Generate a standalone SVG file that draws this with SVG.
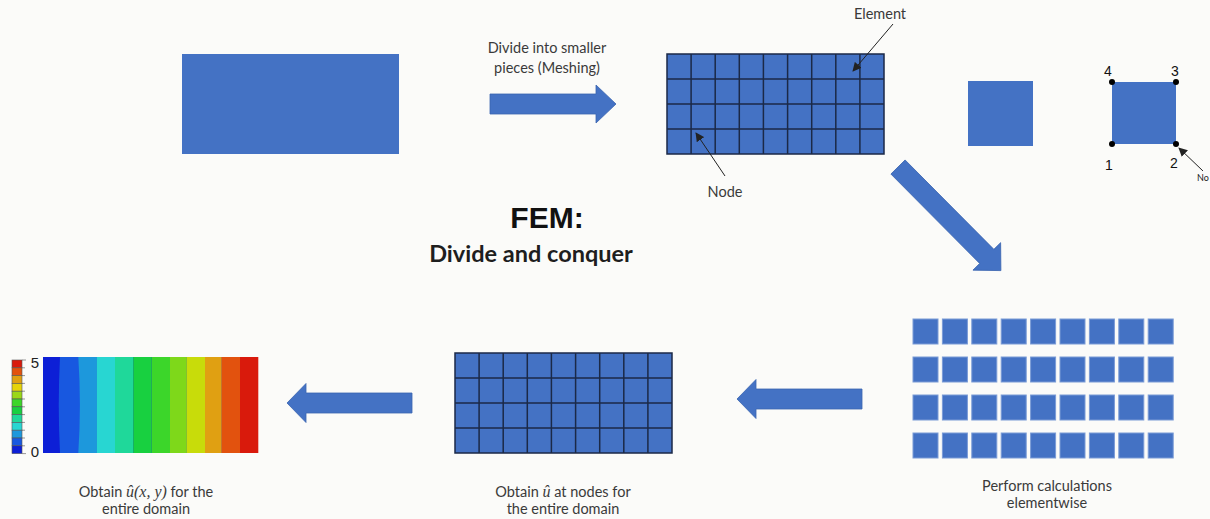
<svg xmlns="http://www.w3.org/2000/svg" width="1210" height="519" viewBox="0 0 1210 519">
  <defs>
    <style>
      .blk { fill: #4472c4; }
      .grid { fill: none; stroke: #1b2947; stroke-width: 1.5; }
      .sq { fill: #4472c4; stroke: #7a9bd6; stroke-width: 1; }
      .arrow { fill: #4472c4; stroke: #3a64b0; stroke-width: 0.8; }
      .lbl { font-family: Lato, "Open Sans", sans-serif; font-size: 14.5px; fill: #3a3a3a; text-anchor: middle; }
      .num { font-family: "Liberation Sans", Arial, sans-serif; font-size: 14px; fill: #111; text-anchor: middle; }
      .math { font-family: "Liberation Serif", serif; font-style: italic; font-size: 16px; }
      .ptr { stroke: #222; stroke-width: 1; fill: none; }
    </style>
    <marker id="ah" viewBox="0 0 10 10" refX="9" refY="5" markerWidth="9" markerHeight="9" markerUnits="userSpaceOnUse" orient="auto">
      <path d="M0,0 L10,5 L0,10 z" fill="#222"/>
    </marker>
  </defs>
  <rect x="0" y="0" width="1210" height="519" fill="#fbfbf9"/>

  <g id="domain">
    <rect class="blk" x="182" y="54" width="217" height="100"/>
  </g>

  <g id="mesh-label">
    <text class="lbl" x="547" y="53">Divide into smaller</text>
    <text class="lbl" x="547" y="73">pieces (Meshing)</text>
  </g>

  <g id="mesh">
    <rect class="blk" x="667" y="54" width="217" height="100"/>
    <path class="grid" d="M667,54 H884 V154 H667 Z M691.1,54 V154 M715.2,54 V154 M739.3,54 V154 M763.4,54 V154 M787.6,54 V154 M811.7,54 V154 M835.8,54 V154 M859.9,54 V154 M667,79 H884 M667,104 H884 M667,129 H884"/>
    <text class="lbl" x="880" y="19">Element</text>
    <line class="ptr" x1="893" y1="24" x2="853" y2="71" marker-end="url(#ah)"/>
    <text class="lbl" x="725" y="197">Node</text>
    <line class="ptr" x1="725" y1="176" x2="696" y2="133" marker-end="url(#ah)"/>
  </g>

  <g id="element">
    <rect class="blk" x="968" y="81" width="65" height="65"/>
  </g>

  <g id="element-nodes">
    <rect class="blk" x="1112" y="82" width="64" height="62"/>
    <circle cx="1112" cy="82" r="3" fill="#000"/>
    <circle cx="1176" cy="82" r="3" fill="#000"/>
    <circle cx="1112" cy="144" r="3" fill="#000"/>
    <circle cx="1176" cy="144" r="3" fill="#000"/>
    <text class="num" x="1108" y="76">4</text>
    <text class="num" x="1175" y="76">3</text>
    <text class="num" x="1109" y="170">1</text>
    <text class="num" x="1174" y="168">2</text>
    <line class="ptr" x1="1203" y1="171" x2="1179" y2="148" marker-end="url(#ah)"/>
    <text x="1197" y="181" font-family="Lato, sans-serif" font-size="9" fill="#222">No</text>
  </g>

  <g id="title">
    <text x="547" y="228" font-family="'Liberation Sans', Arial, sans-serif" font-weight="bold" font-size="30" fill="#111" text-anchor="middle">FEM:</text>
    <text x="531" y="262" font-family="Lato, 'Open Sans', sans-serif" font-weight="bold" font-size="23.5" fill="#1e1e1e" text-anchor="middle">Divide and conquer</text>
  </g>

  <g id="elementwise">
    <g class="sq">
      <rect x="913" y="319" width="25" height="25"/><rect x="942.4" y="319" width="25" height="25"/><rect x="971.8" y="319" width="25" height="25"/><rect x="1001.2" y="319" width="25" height="25"/><rect x="1030.6" y="319" width="25" height="25"/><rect x="1060" y="319" width="25" height="25"/><rect x="1089.4" y="319" width="25" height="25"/><rect x="1118.8" y="319" width="25" height="25"/><rect x="1148.2" y="319" width="25" height="25"/>
      <rect x="913" y="357" width="25" height="25"/><rect x="942.4" y="357" width="25" height="25"/><rect x="971.8" y="357" width="25" height="25"/><rect x="1001.2" y="357" width="25" height="25"/><rect x="1030.6" y="357" width="25" height="25"/><rect x="1060" y="357" width="25" height="25"/><rect x="1089.4" y="357" width="25" height="25"/><rect x="1118.8" y="357" width="25" height="25"/><rect x="1148.2" y="357" width="25" height="25"/>
      <rect x="913" y="395" width="25" height="25"/><rect x="942.4" y="395" width="25" height="25"/><rect x="971.8" y="395" width="25" height="25"/><rect x="1001.2" y="395" width="25" height="25"/><rect x="1030.6" y="395" width="25" height="25"/><rect x="1060" y="395" width="25" height="25"/><rect x="1089.4" y="395" width="25" height="25"/><rect x="1118.8" y="395" width="25" height="25"/><rect x="1148.2" y="395" width="25" height="25"/>
      <rect x="913" y="433" width="25" height="25"/><rect x="942.4" y="433" width="25" height="25"/><rect x="971.8" y="433" width="25" height="25"/><rect x="1001.2" y="433" width="25" height="25"/><rect x="1030.6" y="433" width="25" height="25"/><rect x="1060" y="433" width="25" height="25"/><rect x="1089.4" y="433" width="25" height="25"/><rect x="1118.8" y="433" width="25" height="25"/><rect x="1148.2" y="433" width="25" height="25"/>
    </g>
    <text class="lbl" x="1047" y="491">Perform calculations</text>
    <text class="lbl" x="1047" y="508">elementwise</text>
  </g>

  <g id="nodal-mesh">
    <rect class="blk" x="455" y="353" width="217" height="100"/>
    <path class="grid" d="M455,353 H672 V453 H455 Z M479.1,353 V453 M503.2,353 V453 M527.3,353 V453 M551.4,353 V453 M575.6,353 V453 M599.7,353 V453 M623.8,353 V453 M647.9,353 V453 M455,378 H672 M455,403 H672 M455,428 H672"/>
    <text class="lbl" x="563" y="497">Obtain <tspan class="math">û</tspan> at nodes for</text>
    <text class="lbl" x="563" y="514">the entire domain</text>
  </g>

  <g id="solution">
    <rect x="43" y="357" width="215" height="96" fill="#0d1fd6"/>
    <path d="M60,357 Q57.5,405 60,453 L96.7,453 L96.7,357 Z" fill="#1858e0"/>
    <path d="M78.3,357 Q81.5,405 78.3,453 L96.7,453 L96.7,357 Z" fill="#1d98dc"/>
    <rect x="96.7" y="357" width="18.4" height="96" fill="#28d6d2"/>
    <rect x="115" y="357" width="18.4" height="96" fill="#1fd89a"/>
    <rect x="133.3" y="357" width="18.4" height="96" fill="#18d040"/>
    <rect x="151.7" y="357" width="18.4" height="96" fill="#3cd62a"/>
    <rect x="170" y="357" width="16.8" height="96" fill="#7ed81a"/>
    <rect x="186.7" y="357" width="18.4" height="96" fill="#c8dc0a"/>
    <rect x="205" y="357" width="16.8" height="96" fill="#e0a012"/>
    <rect x="221.7" y="357" width="18.4" height="96" fill="#e2520e"/>
    <rect x="240" y="357" width="18.3" height="96" fill="#d91a0c"/>
    <g stroke="#555" stroke-width="0.6">
      <rect x="12" y="360" width="10" height="7.8" fill="#d91a0c"/>
      <rect x="12" y="367.8" width="10" height="7.8" fill="#e2520e"/>
      <rect x="12" y="375.6" width="10" height="7.8" fill="#e0a012"/>
      <rect x="12" y="383.4" width="10" height="7.8" fill="#e6d40a"/>
      <rect x="12" y="391.2" width="10" height="7.8" fill="#9ad818"/>
      <rect x="12" y="399" width="10" height="7.8" fill="#3cd62a"/>
      <rect x="12" y="406.8" width="10" height="7.8" fill="#18d040"/>
      <rect x="12" y="414.6" width="10" height="7.8" fill="#1fd89a"/>
      <rect x="12" y="422.4" width="10" height="7.8" fill="#28d6d2"/>
      <rect x="12" y="430.2" width="10" height="7.8" fill="#1d98dc"/>
      <rect x="12" y="438" width="10" height="7.8" fill="#1858e0"/>
      <rect x="12" y="445.8" width="10" height="7.8" fill="#0d1fd6"/>
      <path fill="none" d="M22,360 H26 M22,367.8 H25 M22,375.6 H25 M22,383.4 H25 M22,391.2 H25 M22,399 H25 M22,406.8 H25 M22,414.6 H25 M22,422.4 H25 M22,430.2 H25 M22,438 H25 M22,445.8 H25 M22,453.6 H26"/>
    </g>
    <text x="35" y="368" font-family="'Liberation Sans', Arial, sans-serif" font-size="15" fill="#222" text-anchor="middle">5</text>
    <text x="35" y="457" font-family="'Liberation Sans', Arial, sans-serif" font-size="15" fill="#222" text-anchor="middle">0</text>
    <text class="lbl" x="146" y="497">Obtain <tspan class="math">û</tspan><tspan class="math">(x, y)</tspan> for the</text>
    <text class="lbl" x="146" y="514">entire domain</text>
  </g>

  <g id="connectors">
    <polygon class="arrow" points="490,94 596,94 596,85 616,104 596,123 596,114 490,114"/>
    <polygon class="arrow" transform="translate(898,167) rotate(45.2)" points="0,-10 126,-10 126,-19.5 146,0 126,19.5 126,10 0,10"/>
    <polygon class="arrow" points="862,389 756,389 756,379.5 737,399 756,418.5 756,409 862,409"/>
    <polygon class="arrow" points="412,393 306,393 306,383.5 287,403 306,422.5 306,413 412,413"/>
  </g>
</svg>
